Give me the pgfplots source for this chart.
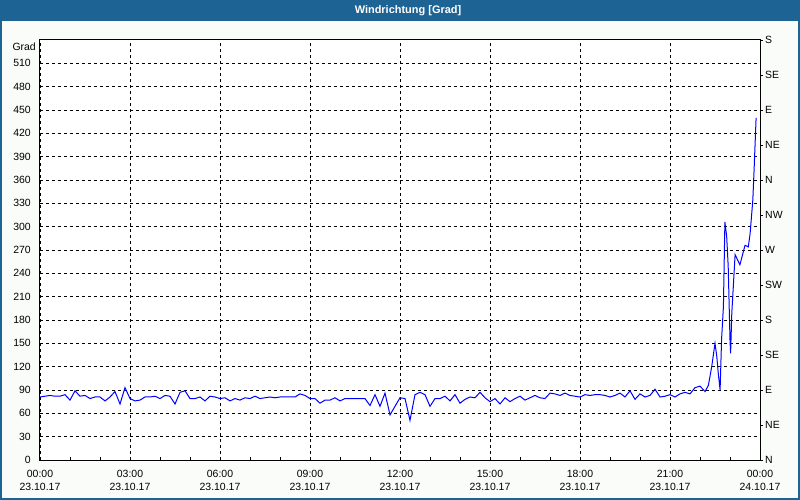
\documentclass[border=0pt]{standalone}
\usepackage{pgfplots}
\pgfplotsset{compat=1.18}
\usepackage{fontspec}
\setmainfont{Liberation Sans}
\definecolor{titleblue}{RGB}{29,99,148}
\definecolor{bgc}{RGB}{250,252,250}
\pgfplotstableread{
x y
0.000 81
0.167 82
0.333 83
0.500 82
0.667 82
0.833 84
1.000 77
1.167 89
1.333 82
1.500 83
1.667 79
1.833 81
2.000 81
2.167 76
2.333 81
2.500 88
2.667 72
2.833 93
3.000 79
3.167 76
3.333 77
3.500 81
3.667 81
3.833 82
4.000 79
4.167 83
4.333 82
4.500 72
4.667 87
4.833 89
5.000 79
5.167 79
5.333 81
5.500 76
5.667 82
5.833 81
6.000 79
6.167 80
6.333 76
6.500 79
6.667 77
6.833 80
7.000 79
7.167 82
7.333 79
7.500 80
7.667 81
7.833 80
8.000 81
8.167 81
8.333 81
8.500 81
8.667 85
8.833 83
9.000 79
9.167 79
9.333 73
9.500 77
9.667 77
9.833 80
10.000 76
10.167 79
10.333 79
10.500 79
10.667 79
10.833 79
11.000 70
11.167 84
11.333 69
11.500 86
11.667 58
11.833 69
12.000 80
12.167 79
12.333 51
12.500 84
12.667 87
12.833 84
13.000 69
13.167 79
13.333 79
13.500 82
13.667 76
13.833 84
14.000 73
14.167 78
14.333 81
14.500 80
14.667 87
14.833 80
15.000 75
15.167 79
15.333 72
15.500 80
15.667 75
15.833 79
16.000 82
16.167 77
16.333 80
16.500 83
16.667 80
16.833 79
17.000 86
17.167 85
17.333 83
17.500 86
17.667 83
17.833 82
18.000 81
18.167 84
18.333 83
18.500 84
18.667 84
18.833 83
19.000 81
19.167 83
19.333 86
19.500 81
19.667 89
19.833 78
20.000 85
20.167 81
20.333 83
20.500 91
20.667 81
20.833 82
21.000 84
21.167 81
21.333 85
21.500 87
21.667 85
21.833 93
22.000 95
22.167 88
22.280 96
22.390 120
22.500 150
22.560 133
22.610 111
22.670 90
22.720 156
22.780 197
22.830 306
22.890 287
22.940 249
23.000 154
23.020 137
23.060 189
23.170 264
23.330 251
23.500 276
23.610 274
23.670 291
23.760 334
23.800 370
23.830 400
23.870 440
}\winddata
\begin{document}
\begin{tikzpicture}
\useasboundingbox (-40bp,-40bp) rectangle (760bp,460bp);
\fill[bgc] (-40bp,-40bp) rectangle (760bp,460bp);
\fill[titleblue] (-40bp,439bp) rectangle (760bp,460bp);
\draw[titleblue, line width=2bp] (-39bp,-39bp) rectangle (759bp,459bp);
\node[white, font=\fontsize{11}{13}\selectfont\bfseries] at (368bp,449.5bp) {Windrichtung [Grad]};
\node[anchor=east, inner sep=0pt, font=\fontsize{10.5}{13}\selectfont] at (-4bp,413bp) {Grad};
\begin{axis}[
  at={(0,0)}, anchor=south west,
  scale only axis, width=720bp, height=420bp,
  xmin=0, xmax=24, ymin=0, ymax=540,
  axis line style={black, line width=1bp},
  axis background/.style={fill=white},
  xtick={0,3,...,24},
  xticklabels={{00:00\\23.10.17},{03:00\\23.10.17},{06:00\\23.10.17},{09:00\\23.10.17},{12:00\\23.10.17},{15:00\\23.10.17},{18:00\\23.10.17},{21:00\\23.10.17},{00:00\\24.10.17}},
  minor xtick={1,2,4,5,7,8,10,11,13,14,16,17,19,20,22,23},
  ytick={0,30,...,510},
  tick align=inside,
  major tick length=3bp, minor tick length=3bp,
  tick style={black, line width=0.8bp},
  xtick pos=bottom, ytick pos=left,
  grid=major,
  major grid style={black, dash pattern=on 3bp off 3bp, line width=0.8bp},
  /pgf/number format/assume math mode=true,
  xticklabel style={font=\fontsize{10.5}{13}\selectfont, align=center, inner sep=0pt, yshift=-10bp},
  yticklabel style={font=\fontsize{10.5}{13}\selectfont, inner sep=0pt, xshift=-9bp},
]
\addplot[color={rgb,255:red,0;green,0;blue,255}, line width=1bp] table {\winddata};
\end{axis}
\begin{axis}[
  at={(0,0)}, anchor=south west,
  scale only axis, width=720bp, height=420bp,
  xmin=0, xmax=24, ymin=0, ymax=540,
  axis y line*=right, axis x line=none,
  axis line style={black, line width=1bp},
  ytick={0,45,...,540},
  yticklabels={N,NE,E,SE,S,SW,W,NW,N,NE,E,SE,S},
  tick align=outside, major tick length=3bp,
  tick style={black, line width=0.8bp},
  yticklabel style={font=\fontsize{10.5}{13}\selectfont, inner sep=0pt, xshift=2bp},
]
\addplot[draw=none] coordinates {(0,0)};
\end{axis}
\end{tikzpicture}
\end{document}
